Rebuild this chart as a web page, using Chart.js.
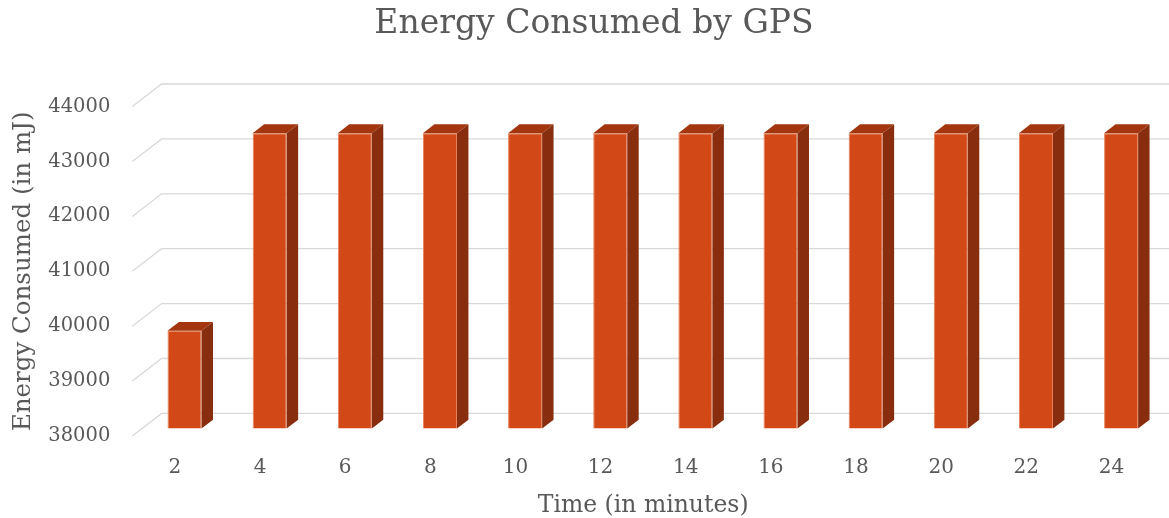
<!DOCTYPE html>
<html>
<head>
<meta charset="utf-8">
<script src="https://cdn.jsdelivr.net/npm/chart.js@4/dist/chart.umd.min.js"></script>
<style>
  html, body { margin: 0; padding: 0; background: #ffffff; }
  #wrap { width: 1169px; height: 518px; position: relative; }
</style>
</head>
<body>
<div id="wrap"><canvas id="chart"></canvas></div>
<script>
// ---- data ----
const categories = ['2', '4', '6', '8', '10', '12', '14', '16', '18', '20', '22', '24'];
const energyValues = [39780, 43380, 43380, 43380, 43380, 43380, 43380, 43380, 43380, 43380, 43380, 43380];
const yTickValues = [38000, 39000, 40000, 41000, 42000, 43000, 44000];
const chartTitle = 'Energy Consumed by GPS';
const xAxisTitle = 'Time (in minutes)';
const yAxisTitle = 'Energy Consumed (in mJ)';

// ---- styling ----
const FONT = '"DejaVu Serif", serif';
const TEXT = '#595959';
const GRID = '#d9d9d9';
const FRONT = '#D34817';
const TOP = '#A3360F';
const SIDE = '#882D0E';
const EDGE = '#E9825A';

// oblique projection: vector from the front edge of the floor to the back wall
const DEPTH = { x: 29.3, y: -22.6 };
// bars sit between these fractions of the depth
const BAR_NEAR = 0.33;
const BAR_FAR = 0.72;

const depthPlugin = {
  id: 'depth3d',
  afterLayout(chart) {
    // move the title a little to the right of the plain centre
    const tb = chart.titleBlock;
    if (tb) { tb.left += 17; tb.right += 17; }
  },
  beforeDatasetsDraw(chart) {
    const { ctx, chartArea, scales } = chart;
    const y = scales.y;
    // gridlines on the back wall, joined to the front edge by the floor diagonals
    ctx.save();
    ctx.strokeStyle = GRID;
    ctx.lineWidth = 1.3;
    y.ticks.forEach(t => {
      const py = y.getPixelForValue(t.value);
      ctx.beginPath();
      ctx.moveTo(chartArea.left, py);
      ctx.lineTo(chartArea.left + DEPTH.x, py + DEPTH.y);
      ctx.lineTo(chart.width, py + DEPTH.y);
      ctx.stroke();
    });
    ctx.restore();
    // front faces of the bars are drawn by Chart.js, pushed back into the depth
    ctx.save();
    ctx.translate(DEPTH.x * BAR_NEAR, DEPTH.y * BAR_NEAR);
  },
  afterDatasetsDraw(chart) {
    const { ctx } = chart;
    const dx = DEPTH.x * (BAR_FAR - BAR_NEAR);
    const dy = DEPTH.y * (BAR_FAR - BAR_NEAR);
    chart.getDatasetMeta(0).data.forEach(bar => {
      const { x, y, base, width } = bar.getProps(['x', 'y', 'base', 'width'], true);
      const l = x - width / 2, r = x + width / 2;
      // top face
      ctx.fillStyle = TOP;
      ctx.beginPath();
      ctx.moveTo(l, y);
      ctx.lineTo(l + dx, y + dy);
      ctx.lineTo(r + dx, y + dy);
      ctx.lineTo(r, y);
      ctx.closePath();
      ctx.fill();
      // right side face
      ctx.fillStyle = SIDE;
      ctx.beginPath();
      ctx.moveTo(r, y);
      ctx.lineTo(r + dx, y + dy);
      ctx.lineTo(r + dx, base + dy);
      ctx.lineTo(r, base);
      ctx.closePath();
      ctx.fill();
    });
    ctx.restore();
  }
};

new Chart(document.getElementById('chart'), {
  type: 'bar',
  data: {
    labels: categories,
    datasets: [{
      data: energyValues,
      base: yTickValues[0],
      backgroundColor: FRONT,
      borderColor: EDGE,
      borderWidth: 1,
      categoryPercentage: 1.0,
      barPercentage: 0.4,
      clip: false
    }]
  },
  options: {
    responsive: true,
    maintainAspectRatio: false,
    animation: false,
    events: [],
    layout: { padding: { left: 0, right: 15, top: 0, bottom: 0 } },
    plugins: {
      legend: { display: false },
      tooltip: { enabled: false },
      title: {
        display: true,
        text: chartTitle,
        color: TEXT,
        font: { family: FONT, size: 33, weight: 'normal', lineHeight: 1.2 },
        padding: { top: 4.7, bottom: 62.3 }
      }
    },
    scales: {
      x: {
        grid: { display: false, drawTicks: false },
        border: { display: false },
        ticks: { color: TEXT, font: { family: FONT, size: 20 }, padding: 20 },
        title: {
          display: true,
          text: xAxisTitle,
          color: TEXT,
          font: { family: FONT, size: 23.5, lineHeight: 1 },
          padding: { top: 0, bottom: 0.3 }
        },
        afterFit(scale) { scale.height = 82; }
      },
      y: {
        min: yTickValues[0],
        max: yTickValues[yTickValues.length - 1],
        afterBuildTicks(scale) { scale.ticks = yTickValues.map(v => ({ value: v })); },
        grid: { display: false, drawTicks: false },
        border: { display: false },
        ticks: {
          color: TEXT,
          font: { family: FONT, size: 19.5 },
          padding: 22,
          callback: v => String(v)
        },
        title: {
          display: true,
          text: yAxisTitle,
          color: TEXT,
          font: { family: FONT, size: 24.5, lineHeight: 1 },
          padding: { top: 11.75, bottom: 0 }
        },
        afterFit(scale) { scale.width = 132.3; }
      }
    }
  },
  plugins: [depthPlugin]
});
</script>
</body>
</html>
